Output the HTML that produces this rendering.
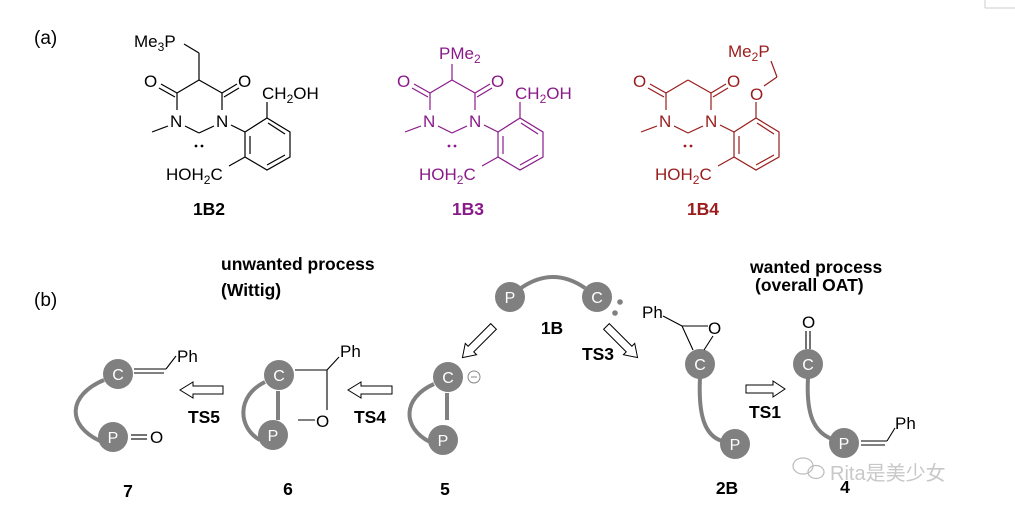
<!DOCTYPE html>
<html><head><meta charset="utf-8"><style>
html,body{margin:0;padding:0;background:#fff;width:1015px;height:517px;overflow:hidden}
svg{display:block;font-family:"Liberation Sans",Arial,sans-serif}
.b{font-size:17.5px;font-weight:bold}
.ct{fill:#fff;font-size:16px;text-anchor:middle}
</style></head><body>
<svg width="1015" height="517" viewBox="0 0 1015 517">
<line x1="985" y1="0" x2="985" y2="8" stroke="#ccc"/><line x1="985" y1="8" x2="1015" y2="8" stroke="#ccc"/>
<text x="34" y="44" font-size="19">(a)</text>
<text x="34" y="306" font-size="19">(b)</text>

<!-- 1B2 -->
<g stroke="#000" stroke-width="1.2" fill="none">
<line x1="199" y1="80" x2="177" y2="93"/>
<line x1="177" y1="93" x2="161" y2="84"/><line x1="175" y1="97" x2="159" y2="88"/>
<line x1="177" y1="93" x2="177" y2="110"/>
<line x1="168" y1="126" x2="152" y2="132"/>
<line x1="185" y1="126" x2="199" y2="133"/>
<line x1="199" y1="133" x2="214" y2="126"/>
<line x1="222" y1="110" x2="222" y2="93"/>
<line x1="222" y1="93" x2="199" y2="80"/>
<line x1="222" y1="93" x2="237" y2="84"/><line x1="224" y1="97" x2="239" y2="88"/>
<line x1="231" y1="125" x2="245" y2="132"/>
<polygon points="245,132 267,118 290,132 290,157 267,170 245,157"/>
<line x1="250" y1="136" x2="250" y2="154"/>
<line x1="285" y1="155" x2="267" y2="165"/>
<line x1="268" y1="123" x2="285" y2="134"/>
<line x1="267" y1="118" x2="267" y2="102"/>
<line x1="245" y1="157" x2="229" y2="166"/>
<line x1="199" y1="80" x2="199" y2="53"/><line x1="199" y1="53" x2="184" y2="44"/>
</g>
<g font-size="17">
<text x="144" y="87">O</text><text x="238" y="87">O</text>
<text x="170" y="127">N</text><text x="216" y="127">N</text>
<text x="262" y="99">CH<tspan font-size="12" dy="4">2</tspan><tspan dy="-4">OH</tspan></text>
<text x="166" y="180">HOH<tspan font-size="12" dy="4">2</tspan><tspan dy="-4">C</tspan></text>
<text x="134" y="47">Me<tspan font-size="12" dy="4">3</tspan><tspan dy="-4">P</tspan></text>
</g>
<circle cx="196" cy="146" r="1.4"/><circle cx="202" cy="146" r="1.4"/>
<text x="209" y="215" class="b" text-anchor="middle">1B2</text>

<!-- 1B3 -->
<g transform="translate(253,0)" fill="#8a1a8a">
<g stroke="#8a1a8a" stroke-width="1.2" fill="none">
<line x1="199" y1="80" x2="177" y2="93"/>
<line x1="177" y1="93" x2="161" y2="84"/><line x1="175" y1="97" x2="159" y2="88"/>
<line x1="177" y1="93" x2="177" y2="110"/>
<line x1="168" y1="126" x2="152" y2="132"/>
<line x1="185" y1="126" x2="199" y2="133"/>
<line x1="199" y1="133" x2="214" y2="126"/>
<line x1="222" y1="110" x2="222" y2="93"/>
<line x1="222" y1="93" x2="199" y2="80"/>
<line x1="222" y1="93" x2="237" y2="84"/><line x1="224" y1="97" x2="239" y2="88"/>
<line x1="231" y1="125" x2="245" y2="132"/>
<polygon points="245,132 267,118 290,132 290,157 267,170 245,157"/>
<line x1="250" y1="136" x2="250" y2="154"/>
<line x1="285" y1="155" x2="267" y2="165"/>
<line x1="268" y1="123" x2="285" y2="134"/>
<line x1="267" y1="118" x2="267" y2="102"/>
<line x1="245" y1="157" x2="229" y2="166"/>
<line x1="199" y1="80" x2="199" y2="64"/>
</g>
<g font-size="17">
<text x="144" y="87">O</text><text x="238" y="87">O</text>
<text x="170" y="127">N</text><text x="216" y="127">N</text>
<text x="262" y="99">CH<tspan font-size="12" dy="4">2</tspan><tspan dy="-4">OH</tspan></text>
<text x="166" y="180">HOH<tspan font-size="12" dy="4">2</tspan><tspan dy="-4">C</tspan></text>
<text x="186" y="59">PMe<tspan font-size="12" dy="4">2</tspan></text>
</g>
<circle cx="196" cy="146" r="1.4"/><circle cx="202" cy="146" r="1.4"/>
<text x="215" y="215" class="b" text-anchor="middle">1B3</text>
</g>

<!-- 1B4 -->
<g transform="translate(489,0)" fill="#9a1c1c">
<g stroke="#9a1c1c" stroke-width="1.2" fill="none">
<line x1="199" y1="80" x2="177" y2="93"/>
<line x1="177" y1="93" x2="161" y2="84"/><line x1="175" y1="97" x2="159" y2="88"/>
<line x1="177" y1="93" x2="177" y2="110"/>
<line x1="168" y1="126" x2="152" y2="132"/>
<line x1="185" y1="126" x2="199" y2="133"/>
<line x1="199" y1="133" x2="214" y2="126"/>
<line x1="222" y1="110" x2="222" y2="93"/>
<line x1="222" y1="93" x2="199" y2="80"/>
<line x1="222" y1="93" x2="237" y2="84"/><line x1="224" y1="97" x2="239" y2="88"/>
<line x1="231" y1="125" x2="245" y2="132"/>
<polygon points="245,132 267,118 290,132 290,157 267,170 245,157"/>
<line x1="250" y1="136" x2="250" y2="154"/>
<line x1="285" y1="155" x2="267" y2="165"/>
<line x1="268" y1="123" x2="285" y2="134"/>
<line x1="267" y1="118" x2="267" y2="102"/>
<line x1="245" y1="157" x2="229" y2="166"/>
<line x1="275" y1="86" x2="288" y2="77"/><line x1="288" y1="77" x2="282" y2="61"/>
</g>
<g font-size="17">
<text x="144" y="87">O</text><text x="238" y="87">O</text>
<text x="170" y="127">N</text><text x="216" y="127">N</text>
<text x="261" y="100">O</text>
<text x="166" y="180">HOH<tspan font-size="12" dy="4">2</tspan><tspan dy="-4">C</tspan></text>
<text x="239" y="57">Me<tspan font-size="12" dy="4">2</tspan><tspan dy="-4">P</tspan></text>
</g>
<circle cx="196" cy="146" r="1.4"/><circle cx="202" cy="146" r="1.4"/>
<text x="214" y="215" class="b" text-anchor="middle">1B4</text>
</g>

<!-- (b) headings -->
<text x="221" y="270" class="b">unwanted process</text>
<text x="221" y="296" class="b">(Wittig)</text>
<text x="750" y="273" class="b">wanted process</text>
<text x="755" y="291" class="b">(overall OAT)</text>

<g stroke="#808080" stroke-width="4" fill="none">
<path d="M521,288 Q553,266 585,288"/>
<path d="M434,384 C402,398 402,428 430,442"/>
<path d="M265,382 C236,396 238,428 260,440"/>
<path d="M104,380 C68,395 66,425 100,441"/>
<path d="M700,378 C698,418 706,436 722,441"/>
<path d="M808,378 C806,415 814,432 832,439"/>
<line x1="447" y1="393" x2="447" y2="420"/>
<line x1="278" y1="391" x2="278" y2="420"/>
</g>
<g fill="#808080">
<circle cx="510" cy="297" r="15"/><circle cx="597" cy="297" r="15"/>
<circle cx="620" cy="302" r="2.8"/><circle cx="615" cy="313" r="2.8"/>
<circle cx="448" cy="377" r="15"/><circle cx="443" cy="440" r="15"/>
<circle cx="279" cy="375" r="15"/><circle cx="273" cy="435" r="15"/>
<circle cx="118" cy="374" r="15"/><circle cx="113" cy="437" r="15"/>
<circle cx="700" cy="364" r="15"/><circle cx="735" cy="444" r="15"/>
<circle cx="808" cy="364" r="15"/><circle cx="844" cy="443" r="15"/>
</g>
<g>
<text x="510" y="303" class="ct">P</text><text x="597" y="303" class="ct">C</text>
<text x="448" y="383" class="ct">C</text><text x="443" y="446" class="ct">P</text>
<text x="279" y="381" class="ct">C</text><text x="273" y="441" class="ct">P</text>
<text x="118" y="380" class="ct">C</text><text x="113" y="443" class="ct">P</text>
<text x="700" y="370" class="ct">C</text><text x="735" y="450" class="ct">P</text>
<text x="808" y="370" class="ct">C</text><text x="844" y="449" class="ct">P</text>
</g>
<circle cx="474" cy="377" r="6" fill="none" stroke="#888" stroke-width="1"/>
<line x1="471" y1="377" x2="477" y2="377" stroke="#888" stroke-width="1"/>

<g stroke="#000" stroke-width="1.1" fill="none">
<line x1="134" y1="369" x2="166" y2="369"/><line x1="134" y1="373" x2="164" y2="373"/>
<line x1="166" y1="369" x2="176" y2="356"/>
<line x1="131" y1="435" x2="147" y2="435"/><line x1="131" y1="439" x2="147" y2="439"/>
<line x1="295" y1="370" x2="327" y2="370"/><line x1="327" y1="370" x2="327" y2="410"/>
<line x1="327" y1="370" x2="339" y2="357"/>
<line x1="298" y1="420" x2="315" y2="420"/>
<line x1="663" y1="316" x2="682" y2="326"/><line x1="682" y1="326" x2="708" y2="326"/>
<line x1="682" y1="326" x2="693" y2="350"/><line x1="713" y1="336" x2="704" y2="350"/>
<line x1="806" y1="331" x2="806" y2="349"/><line x1="810" y1="331" x2="810" y2="349"/>
<line x1="861" y1="441" x2="887" y2="441"/><line x1="861" y1="445" x2="885" y2="445"/>
<line x1="887" y1="441" x2="895" y2="428"/>
</g>
<g font-size="17">
<text x="177" y="362">Ph</text><text x="150" y="443">O</text>
<text x="340" y="357">Ph</text><text x="316" y="427">O</text>
<text x="642" y="318">Ph</text><text x="708" y="334">O</text>
<text x="802" y="328">O</text><text x="895" y="429">Ph</text>
</g>

<g fill="#fff" stroke="#000" stroke-width="1">
<polygon points="223,386 193,386 193,382 180,390 193,398 193,394 223,394"/>
<polygon points="392,386 361,386 361,382 348,390 361,398 361,394 392,394"/>
<polygon points="746,385 773,385 773,381 785,389 773,397 773,393 746,393"/>
<g transform="translate(478,342) rotate(135)"><polygon points="-22,-4 10,-4 10,-8 22,0 10,8 10,4 -22,4"/></g>
<g transform="translate(622,342) rotate(45)"><polygon points="-22,-4 10,-4 10,-8 22,0 10,8 10,4 -22,4"/></g>
</g>
<text x="204" y="423" class="b" text-anchor="middle">TS5</text>
<text x="370" y="423" class="b" text-anchor="middle">TS4</text>
<text x="598" y="360" class="b" text-anchor="middle">TS3</text>
<text x="765" y="418" class="b" text-anchor="middle">TS1</text>
<text x="552" y="334" class="b" text-anchor="middle">1B</text>

<g class="b" text-anchor="middle">
<text x="128" y="497">7</text><text x="288" y="495">6</text><text x="445" y="495">5</text>
<text x="727" y="494">2B</text><text x="845" y="493">4</text>
</g>
<g fill="none" stroke="#bbb" stroke-width="1.2">
<ellipse cx="803" cy="466" rx="10" ry="8"/><ellipse cx="816" cy="472" rx="8" ry="6.5"/>
</g>
<text x="830" y="480" font-size="20" fill="#c8c8c8" font-family="'Liberation Sans','Noto Sans CJK SC',sans-serif">Rita是美少女</text>
</svg>
</body></html>
